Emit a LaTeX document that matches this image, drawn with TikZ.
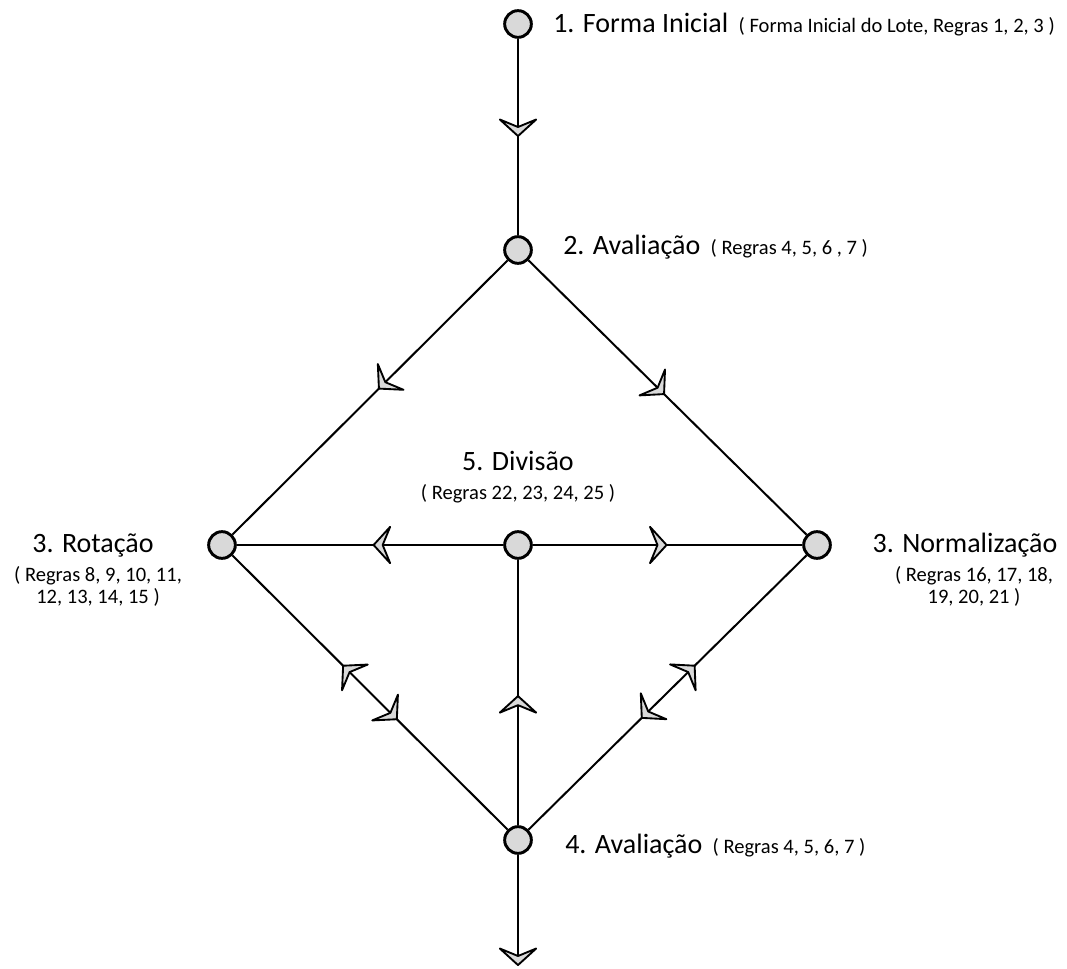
\documentclass[tikz,border=0pt]{standalone}
\usepackage{fontspec}
\setmainfont{Carlito}
\usetikzlibrary{arrows.meta,decorations.markings}
\begin{document}
\begin{tikzpicture}[x=0.75pt,y=-0.75pt,
  state/.style={circle,draw=black,fill=gray!30,line width=2.2pt,minimum size=20pt,inner sep=0pt},
  flowarrow/.tip={Stealth[length=15.5pt,width=34pt,inset=7pt,fill=gray!30,line width=1.4pt,round=false]},
  conn/.style={line width=1.5pt,postaction={decorate},
    decoration={markings,mark=at position #1 with {\arrow{flowarrow}}}},
  conntwo/.style 2 args={line width=1.5pt,postaction={decorate},
    decoration={markings,mark=at position #1 with {\arrowreversed{flowarrow}},
      mark=at position #2 with {\arrow{flowarrow}}}},
  lbl/.style={inner sep=0pt,font=\fontsize{21}{25}\selectfont},
  sm/.style={font=\fontsize{15.4}{16.5}\selectfont}
]
\useasboundingbox (0,0) rectangle (1067,969);

% nodes
\node[state] (n1) at (518,24) {};
\node[state] (n2) at (518,250) {};
\node[state] (n3l) at (222,545) {};
\node[state] (n5) at (518,545) {};
\node[state] (n3r) at (817,545) {};
\node[state] (n4) at (518,840) {};
\coordinate (end) at (518,966);

% connectors
\draw[conn=0.5] (n1) -- (n2);
\draw[conn=0.47] (n2) -- (n3l);
\draw[conn=0.49] (n2) -- (n3r);
\draw[conn=0.49] (n5) -- (n3l);
\draw[conn=0.5] (n5) -- (n3r);
\draw[conntwo={0.40}{0.60}] (n3l) -- (n4);
\draw[conntwo={0.40}{0.595}] (n3r) -- (n4);
\draw[conn=0.49] (n4) -- (n5);
\draw[line width=1.5pt,-{flowarrow}] (n4) -- (end);

% labels
\node[lbl,anchor=base west] (t1) at (553,33)
  {1. Forma Inicial\hspace{3pt} {\fontsize{15.4}{16.5}\selectfont ( Forma Inicial do Lote, Regras 1, 2, 3 )}};
\node[lbl,anchor=base west] (t2) at (563,255)
  {2. Avaliação\hspace{3pt} {\fontsize{15.4}{16.5}\selectfont ( Regras 4, 5, 6 , 7 )}};
\node[lbl,anchor=base west] (t4) at (565,853)
  {4. Avaliação\hspace{3pt} {\fontsize{15.4}{16.5}\selectfont ( Regras 4, 5, 6, 7 )}};
\node[lbl,anchor=base] (t5) at (518,471) {5. Divisão};
\node[lbl,sm,anchor=base] (t5b) at (518,499) {( Regras 22, 23, 24, 25 )};
\node[lbl,anchor=base] (t3l) at (93,552) {3. Rotação};
\node[lbl,sm,anchor=north,align=center] (t3lb) at (98,566) {( Regras 8, 9, 10, 11,\\ 12, 13, 14, 15 )};
\node[lbl,anchor=base] (t3r) at (965,552) {3. Normalização};
\node[lbl,sm,anchor=north,align=center] (t3rb) at (974,566) {( Regras 16, 17, 18,\\ 19, 20, 21 )};
\end{tikzpicture}
\end{document}
